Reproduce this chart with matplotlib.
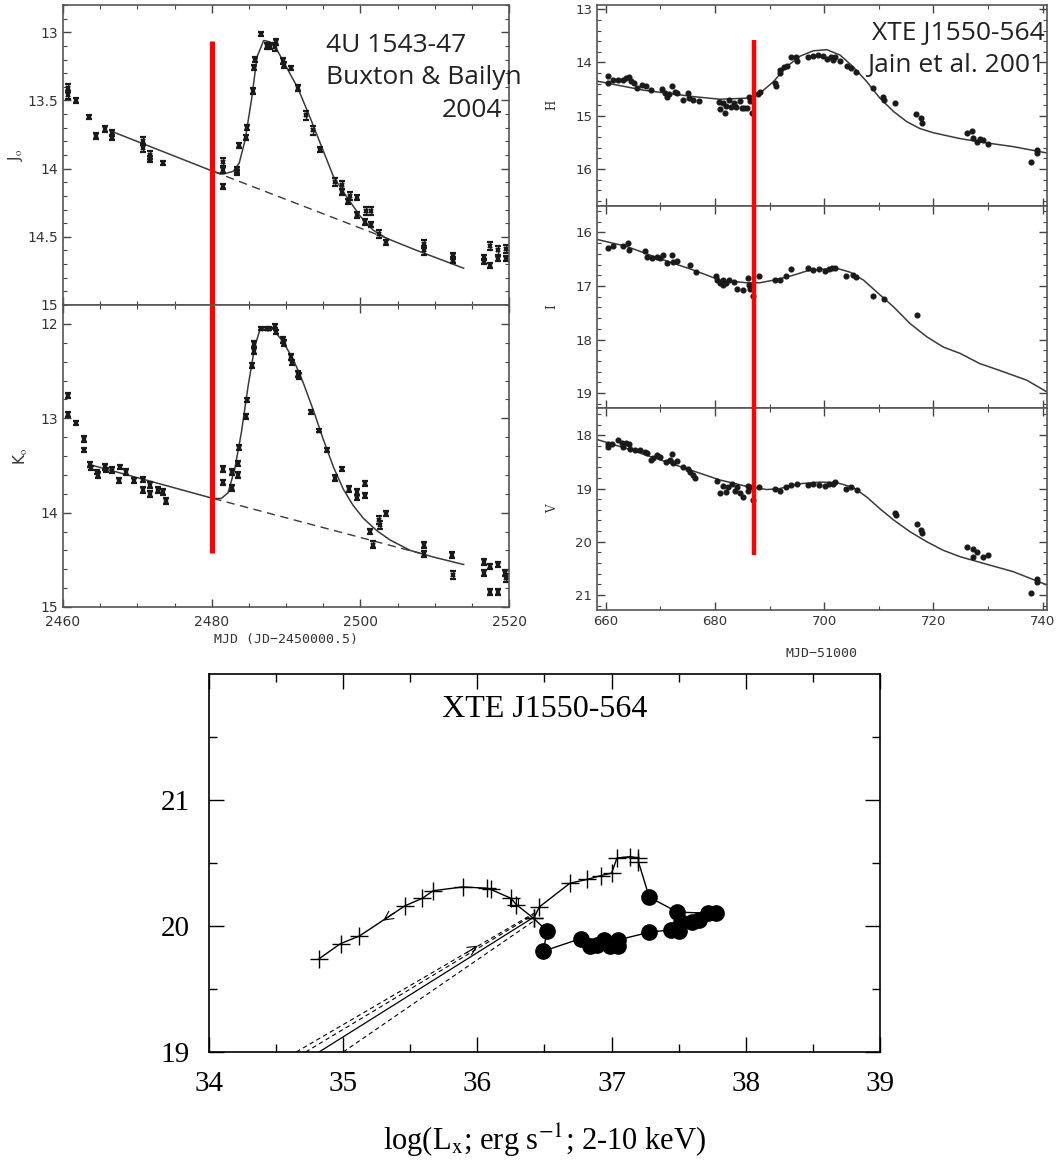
import numpy as np
import matplotlib
matplotlib.use('Agg')
import matplotlib.pyplot as plt
from matplotlib.ticker import MultipleLocator, FormatStrFormatter

plt.rcParams['mathtext.fontset'] = 'stix'

# ---------------- 4U 1543-47 (Buxton & Bailyn 2004) ----------------
J_x = [2460.7, 2460.7, 2461.8, 2463.5, 2464.5, 2465.6, 2466.6, 2466.6, 2470.7, 2470.7,
       2471.7, 2471.7, 2473.5, 2481.5, 2481.5, 2481.5, 2483.4, 2483.4, 2483.7, 2484.6,
       2484.7, 2485.5, 2485.7, 2485.8, 2486.7, 2487.4, 2487.8, 2488.5, 2488.6, 2489.6,
       2489.7, 2490.7, 2491.6, 2492.7, 2493.6, 2494.6, 2496.6, 2497.6, 2497.6, 2498.4,
       2498.6, 2499.6, 2499.5, 2500.6, 2500.8, 2501.5, 2501.5, 2502.5, 2503.5, 2508.5,
       2508.5, 2512.4, 2512.4, 2516.6, 2516.6, 2517.5, 2517.5, 2518.5, 2518.5, 2519.6,
       2519.6]
J_y = [13.41, 13.46, 13.50, 13.62, 13.76, 13.71, 13.74, 13.77, 13.80, 13.85,
       13.90, 13.93, 13.96, 13.95, 14.01, 14.13, 14.01, 14.03, 13.83, 13.77,
       13.70, 13.43, 13.26, 13.20, 13.01, 13.10, 13.10, 13.11, 13.07, 13.21,
       13.24, 13.26, 13.41, 13.61, 13.72, 13.86, 14.10, 14.12, 14.17, 14.24,
       14.20, 14.21, 14.34, 14.39, 14.31, 14.31, 14.41, 14.48, 14.54, 14.55,
       14.60, 14.64, 14.67, 14.65, 14.68, 14.57, 14.71, 14.60, 14.66, 14.59,
       14.66]
J_err = [0.03, 0.03, 0.015, 0.015, 0.02, 0.02, 0.02, 0.02, 0.03, 0.03,
         0.03, 0.02, 0.015, 0.03, 0.02, 0.02, 0.02, 0.02, 0.02, 0.02,
         0.02, 0.02, 0.02, 0.02, 0.015, 0.02, 0.02, 0.03, 0.02, 0.02,
         0.02, 0.015, 0.02, 0.03, 0.03, 0.02, 0.03, 0.03, 0.02, 0.02,
         0.03, 0.02, 0.02, 0.02, 0.03, 0.03, 0.02, 0.03, 0.02, 0.03,
         0.03, 0.02, 0.02, 0.02, 0.02, 0.03, 0.02, 0.03, 0.02, 0.03,
         0.02]
Jmod_x = [2466.7, 2480.2, 2481.5, 2482.9, 2483.7, 2484.5, 2485.4, 2486.1, 2487.0, 2487.8,
          2488.7, 2490.1, 2491.6, 2493.2, 2494.8, 2496.4, 2498.2, 2500.0, 2501.7, 2503.5,
          2507.6, 2513.9]
Jmod_y = [13.73, 14.02, 14.04, 14.02, 13.96, 13.79, 13.48, 13.18, 13.06, 13.07,
          13.12, 13.26, 13.41, 13.62, 13.84, 14.06, 14.21, 14.35, 14.45, 14.51,
          14.60, 14.73]
Jbase_x = [2480.2, 2504.0]
Jbase_y = [14.02, 14.52]

K_x = [2460.7, 2460.7, 2461.8, 2462.8, 2462.8, 2463.6, 2463.7, 2464.7, 2464.6, 2465.6,
       2465.8, 2466.6, 2467.6, 2467.7, 2468.5, 2469.6, 2470.7, 2470.7, 2471.7, 2471.7,
       2472.8, 2473.5, 2473.8, 2481.5, 2481.5, 2482.7, 2482.7, 2483.5, 2483.5, 2483.7,
       2484.6, 2484.7, 2485.4, 2485.7, 2485.7, 2486.7, 2487.5, 2487.7, 2488.5, 2488.6,
       2489.6, 2489.7, 2490.7, 2490.8, 2491.6, 2491.7, 2493.4, 2494.5, 2495.5, 2496.6,
       2497.6, 2498.5, 2499.5, 2499.6, 2500.6, 2500.6, 2501.3, 2501.7, 2502.5, 2502.6,
       2503.5, 2508.5, 2508.5, 2512.3, 2512.5, 2516.6, 2516.6, 2517.5, 2517.5, 2518.5,
       2518.5, 2519.5, 2519.6]
K_y = [12.76, 12.96, 13.05, 13.22, 13.34, 13.49, 13.53, 13.60, 13.57, 13.52,
       13.55, 13.55, 13.66, 13.52, 13.57, 13.66, 13.65, 13.76, 13.71, 13.80,
       13.76, 13.78, 13.88, 13.54, 13.68, 13.57, 13.74, 13.48, 13.60, 13.31,
       12.98, 12.81, 12.44, 12.29, 12.21, 12.05, 12.05, 12.05, 12.02, 12.09,
       12.17, 12.20, 12.35, 12.41, 12.53, 12.55, 12.93, 13.13, 13.34, 13.63,
       13.54, 13.75, 13.84, 13.78, 13.69, 13.82, 14.20, 14.34, 14.08, 14.13,
       14.01, 14.34, 14.44, 14.45, 14.66, 14.52, 14.64, 14.57, 14.84, 14.55,
       14.84, 14.64, 14.69]
K_err = [0.03, 0.03, 0.02, 0.03, 0.02, 0.03, 0.02, 0.03, 0.02, 0.03,
         0.02, 0.03, 0.03, 0.02, 0.03, 0.03, 0.03, 0.03, 0.03, 0.03,
         0.03, 0.03, 0.03, 0.03, 0.03, 0.03, 0.03, 0.03, 0.03, 0.03,
         0.03, 0.02, 0.03, 0.03, 0.03, 0.02, 0.02, 0.02, 0.02, 0.02,
         0.03, 0.03, 0.03, 0.03, 0.03, 0.03, 0.02, 0.02, 0.02, 0.03,
         0.02, 0.03, 0.03, 0.03, 0.03, 0.03, 0.03, 0.04, 0.04, 0.04,
         0.03, 0.03, 0.03, 0.03, 0.04, 0.03, 0.03, 0.03, 0.03, 0.03,
         0.03, 0.03, 0.04]
Kmod_x = [2464.0, 2480.2, 2481.3, 2482.2, 2483.1, 2484.0, 2484.9, 2485.8, 2486.5, 2487.4,
          2488.3, 2489.6, 2491.0, 2492.3, 2493.7, 2495.0, 2496.4, 2497.7, 2499.0, 2500.4,
          2502.2, 2504.0, 2506.7, 2509.8, 2513.9]
Kmod_y = [13.50, 13.85, 13.85, 13.79, 13.54, 13.15, 12.66, 12.24, 12.06, 12.03,
          12.06, 12.19, 12.38, 12.62, 12.92, 13.22, 13.52, 13.75, 13.92, 14.06,
          14.19, 14.29, 14.40, 14.47, 14.55]
Kbase_x = [2480.2, 2508.0]
Kbase_y = [13.85, 14.43]

LEFT_OUTBURST = 2480.0
LEFT_RED_J = (13.065, 15.0)
LEFT_RED_K = (11.8, 14.43)

# ---------------- XTE J1550-564 (Jain et al. 2001) ----------------
H_x = [660.4, 660.4, 661.4, 662.3, 663.2, 663.8, 664.3, 664.6, 665.2, 665.8,
       666.6, 667.4, 668.2, 670.3, 670.9, 671.3, 671.5, 672.1, 672.7, 673.1,
       674.2, 675.1, 675.3, 676.0, 677.0, 680.8, 680.9, 681.5, 681.8, 682.1,
       682.5, 682.9, 683.4, 683.9, 684.5, 684.9, 685.3, 685.9, 686.3, 686.4,
       686.7, 687.9, 688.2, 691.0, 691.2, 691.9, 692.0, 692.6, 693.1, 694.0,
       694.8, 695.0, 697.1, 698.0, 698.9, 699.8, 700.5, 701.2, 701.6, 702.0,
       702.9, 704.1, 705.0, 705.9, 709.0, 710.8, 710.9, 713.0, 716.9, 717.8,
       718.0, 726.1, 727.0, 727.2, 727.9, 728.6, 729.1, 730.0, 737.8, 738.9,
       739.0]
H_y = [14.25, 14.39, 14.32, 14.32, 14.32, 14.30, 14.27, 14.34, 14.39, 14.47,
       14.42, 14.44, 14.52, 14.50, 14.58, 14.64, 14.59, 14.44, 14.55, 14.58,
       14.71, 14.57, 14.66, 14.71, 14.72, 14.74, 14.88, 14.77, 14.94, 14.82,
       14.71, 14.84, 14.77, 14.84, 14.72, 14.86, 14.86, 14.86, 14.64, 14.72,
       14.94, 14.59, 14.55, 14.39, 14.45, 14.14, 14.20, 14.08, 14.07, 13.90,
       13.90, 13.98, 13.90, 13.88, 13.86, 13.88, 13.94, 13.90, 13.95, 13.89,
       13.98, 14.07, 14.11, 14.17, 14.47, 14.64, 14.71, 14.77, 14.96, 15.05,
       15.13, 15.32, 15.28, 15.41, 15.49, 15.43, 15.45, 15.53, 15.87, 15.65,
       15.70]
Hmod_x = [658.4, 666.9, 676.0, 680.9, 685.8, 688.2, 690.7, 693.1, 695.6, 698.0,
          700.5, 702.9, 705.3, 707.8, 710.2, 712.7, 715.1, 717.5, 720.0, 724.9,
          729.7, 734.6, 740.8]
Hmod_y = [14.35, 14.52, 14.64, 14.69, 14.67, 14.58, 14.36, 14.08, 13.88, 13.78,
          13.76, 13.86, 14.08, 14.36, 14.67, 14.92, 15.11, 15.24, 15.32, 15.43,
          15.51, 15.58, 15.70]

I_x = [660.4, 661.4, 663.2, 664.1, 664.3, 667.2, 667.5, 668.4, 669.3, 669.9,
       670.4, 671.2, 672.1, 672.4, 673.1, 675.4, 676.5, 680.2, 680.3, 680.9,
       681.4, 681.5, 682.0, 682.5, 683.4, 684.1, 685.1, 686.1, 686.3, 686.4,
       686.9, 688.1, 691.0, 692.0, 693.0, 694.0, 697.1, 697.9, 699.1, 700.1,
       700.9, 701.4, 702.0, 704.0, 705.2, 705.9, 709.0, 710.9, 717.0]
I_y = [16.29, 16.26, 16.26, 16.19, 16.32, 16.34, 16.46, 16.47, 16.46, 16.47,
       16.42, 16.57, 16.42, 16.55, 16.53, 16.61, 16.74, 16.82, 16.88, 16.95,
       16.89, 16.99, 16.94, 16.89, 16.92, 17.05, 17.08, 16.86, 16.99, 17.05,
       17.19, 16.82, 16.88, 16.88, 16.82, 16.69, 16.67, 16.70, 16.69, 16.72,
       16.69, 16.67, 16.67, 16.82, 16.80, 16.83, 17.19, 17.24, 17.55]
Imod_x = [658.4, 663.8, 669.9, 676.0, 680.9, 685.8, 688.2, 691.3, 694.3, 696.8,
          699.2, 702.3, 704.7, 707.2, 709.6, 712.7, 715.7, 718.8, 721.8, 724.9,
          728.5, 732.2, 737.1, 740.8]
Imod_y = [16.13, 16.26, 16.49, 16.70, 16.89, 16.94, 16.94, 16.88, 16.80, 16.72,
          16.69, 16.67, 16.74, 16.89, 17.11, 17.39, 17.70, 17.95, 18.14, 18.26,
          18.45, 18.58, 18.76, 18.98]

V_x = [660.4, 660.5, 661.1, 662.3, 662.9, 663.1, 663.8, 664.3, 664.5, 665.4,
       666.3, 667.2, 667.6, 668.2, 668.6, 669.3, 669.9, 671.0, 671.7, 672.1,
       672.4, 673.0, 674.2, 675.1, 675.4, 676.0, 676.4, 680.3, 680.9, 681.5,
       682.1, 682.4, 683.2, 683.7, 684.1, 684.6, 685.2, 686.1, 686.1, 686.4,
       686.9, 688.1, 691.0, 692.0, 693.0, 694.0, 695.1, 697.1, 698.0, 699.1,
       700.1, 700.9, 701.6, 702.0, 704.0, 705.0, 706.1, 713.0, 713.1, 717.0,
       717.8, 718.0, 726.1, 727.2, 727.2, 728.0, 729.1, 730.0, 737.8, 739.0,
       739.0]
V_y = [18.22, 18.16, 18.17, 18.09, 18.14, 18.22, 18.14, 18.17, 18.25, 18.27,
       18.27, 18.31, 18.34, 18.46, 18.42, 18.38, 18.41, 18.50, 18.47, 18.36,
       18.53, 18.48, 18.59, 18.63, 18.69, 18.75, 18.81, 18.86, 19.08, 18.96,
       19.06, 18.98, 18.92, 19.04, 18.98, 19.08, 19.16, 18.96, 19.04, 18.98,
       19.22, 18.98, 19.00, 19.04, 18.98, 18.94, 18.91, 18.94, 18.91, 18.94,
       18.96, 18.92, 18.91, 18.88, 19.00, 18.98, 19.03, 19.46, 19.50, 19.67,
       19.78, 19.83, 20.09, 20.13, 20.28, 20.19, 20.28, 20.25, 20.97, 20.69,
       20.75]
Vmod_x = [658.4, 663.8, 669.9, 676.0, 680.9, 685.8, 689.5, 691.9, 695.6, 699.2,
          702.3, 705.3, 707.8, 710.2, 712.7, 715.7, 718.8, 721.8, 724.9, 729.7,
          734.6, 740.8]
Vmod_y = [18.08, 18.25, 18.46, 18.67, 18.84, 18.96, 19.02, 19.00, 18.91, 18.88,
          18.89, 18.98, 19.16, 19.38, 19.59, 19.81, 20.00, 20.16, 20.28, 20.42,
          20.56, 20.81]

RIGHT_OUTBURST = 687.2
RIGHT_RED_H = (13.58, 16.69)
RIGHT_RED_I = (15.50, 19.27)
RIGHT_RED_V = (17.48, 20.25)
RIGHT_BANDS = ['H', 'I', 'V']

# ---------------- bottom: V vs log Lx ----------------
rise_x = [36.42, 36.46, 36.69, 36.82, 36.92, 37.00, 37.04, 37.14, 37.20, 37.20]
rise_y = [20.06, 20.15, 20.34, 20.37, 20.40, 20.42, 20.54, 20.55, 20.54, 20.51]
circ_x = [37.28, 37.49, 37.78, 37.72, 37.65, 37.60, 37.52, 37.50, 37.44, 37.28,
          37.05, 37.05, 36.99, 36.94, 36.89, 36.84, 36.77, 36.49, 36.52]
circ_y = [20.23, 20.11, 20.10, 20.10, 20.05, 20.03, 20.03, 19.96, 19.97, 19.95,
          19.89, 19.84, 19.84, 19.89, 19.85, 19.84, 19.90, 19.80, 19.96]
decay_x = [36.42, 36.29, 36.25, 36.10, 36.07, 35.89, 35.67, 35.59, 35.46, 35.12, 34.98, 34.82]
decay_y = [20.06, 20.17, 20.22, 20.29, 20.30, 20.31, 20.28, 20.22, 20.16, 19.92, 19.86, 19.74]
square_pt = (36.27, 20.19)
solid_rise_x = [34.82, 36.42]
solid_rise_y = [19.00, 20.07]
dashed_hi_x = [34.65, 36.42]
dashed_hi_y = [19.00, 20.10]
dashed_hi2_x = [34.72, 36.42]
dashed_hi2_y = [19.00, 20.09]
dashed_lo_x = [35.00, 36.42]
dashed_lo_y = [19.00, 20.04]
arrow_rise = ((35.90, 19.775), (36.02, 19.855))
arrow_decay = ((35.40, 20.118), (35.28, 20.03))

W, Hpx = 1057, 1166
fig = plt.figure(figsize=(W / 100, Hpx / 100), dpi=100)


def box(l, t, r, b):
    return [l / W, 1 - b / Hpx, (r - l) / W, (b - t) / Hpx]


def pg_style(ax, xmaj, xmin, ymaj, ymin, lsize=10):
    ax.xaxis.set_major_locator(MultipleLocator(xmaj))
    ax.xaxis.set_minor_locator(MultipleLocator(xmin))
    ax.yaxis.set_major_locator(MultipleLocator(ymaj))
    ax.yaxis.set_minor_locator(MultipleLocator(ymin))
    ax.tick_params(which='both', direction='in', top=True, right=True,
                   colors='#444', labelcolor='#333', labelsize=lsize)
    ax.tick_params(which='major', length=6, width=1.0)
    ax.tick_params(which='minor', length=3, width=0.8)
    for s in ax.spines.values():
        s.set_color('#555')
        s.set_linewidth(1.2)


INK = '#1a1a1a'
CURVE = '#3a3a3a'

# --- J panel
axJ = fig.add_axes(box(63, 5, 509, 305))
axJ.set_xlim(2460, 2520)
axJ.set_ylim(15, 12.8)
pg_style(axJ, 20, 5, 0.5, 0.1)
axJ.yaxis.set_major_formatter(FormatStrFormatter('%g'))
axJ.tick_params(labelbottom=False)
axJ.plot(Jmod_x, Jmod_y, color=CURVE, lw=1.1)
axJ.plot(Jbase_x, Jbase_y, color=CURVE, lw=1.0, ls=(0, (6, 4)))
axJ.errorbar(J_x, J_y, yerr=J_err, fmt='x', ms=3.2, mew=1.6, color=INK,
             ecolor=INK, elinewidth=1.0, capsize=2.2, capthick=1.0)
axJ.vlines(LEFT_OUTBURST, LEFT_RED_J[0], LEFT_RED_J[1], color='#ff0000', lw=3.6, zorder=6, clip_on=False)
axJ.set_ylabel(r'J$_{\rm o}$', fontsize=11, color='#333')
axJ.yaxis.set_label_coords(-0.085, 0.5)
tkw = dict(transform=axJ.transAxes, fontsize=19, color='#222', family='Open Sans', va='center', clip_on=False)
axJ.text(0.59, 0.865, '4U 1543-47', ha='left', **tkw)
axJ.text(0.59, 0.757, 'Buxton & Bailyn', ha='left', **tkw)
axJ.text(0.985, 0.648, '2004', ha='right', **tkw)

# --- K panel
axK = fig.add_axes(box(63, 305, 509, 607))
axK.set_xlim(2460, 2520)
axK.set_ylim(15, 11.8)
pg_style(axK, 20, 5, 1, 0.2)
axK.tick_params(axis='x', which='major', pad=6)
axK.yaxis.set_major_formatter(FormatStrFormatter('%g'))
axK.xaxis.set_major_formatter(FormatStrFormatter('%d'))
axK.plot(Kmod_x, Kmod_y, color=CURVE, lw=1.1)
axK.plot(Kbase_x, Kbase_y, color=CURVE, lw=1.0, ls=(0, (6, 4)))
axK.errorbar(K_x, K_y, yerr=K_err, fmt='x', ms=3.2, mew=1.6, color=INK,
             ecolor=INK, elinewidth=1.0, capsize=2.2, capthick=1.0)
axK.vlines(LEFT_OUTBURST, LEFT_RED_K[0], LEFT_RED_K[1], color='#ff0000', lw=3.6, zorder=6, clip_on=False)
axK.set_ylabel(r'K$_{\rm o}$', fontsize=11, color='#333')
axK.yaxis.set_label_coords(-0.075, 0.5)
axK.set_xlabel('MJD (JD\u22122450000.5)', fontsize=9.5, color='#333', family='DejaVu Sans Mono')
axK.xaxis.labelpad = 3

# --- H, I, V panels
right_panels = [
    (box(597, 5, 1047, 205.7), H_x, H_y, Hmod_x, Hmod_y, (16.69, 12.92), RIGHT_RED_H),
    (box(597, 205.7, 1047, 407.5), I_x, I_y, Imod_x, Imod_y, (19.27, 15.50), RIGHT_RED_I),
    (box(597, 407.5, 1047, 610), V_x, V_y, Vmod_x, Vmod_y, (21.28, 17.48), RIGHT_RED_V),
]
raxes = []
for (rect, px, py, mx, my, ylim, red), band in zip(right_panels, RIGHT_BANDS):
    ax = fig.add_axes(rect)
    ax.set_xlim(658.4, 740.8)
    ax.set_ylim(*ylim)
    pg_style(ax, 20, 10, 1, 0.2, lsize=9.5)
    ax.yaxis.set_major_formatter(FormatStrFormatter('%d'))
    ax.xaxis.set_major_formatter(FormatStrFormatter('%d'))
    ax.plot(mx, my, color=CURVE, lw=1.1)
    ax.plot(px, py, 'o', ms=3.4, color=INK, mec=INK)
    ax.vlines(RIGHT_OUTBURST, red[0], red[1], color='#ff0000', lw=3.2, zorder=6, clip_on=False)
    ax.set_ylabel(band, fontsize=8.5, color='#333', family='DejaVu Serif')
    ax.yaxis.set_label_coords(-0.085, 0.5)
    raxes.append(ax)
raxes[0].tick_params(labelbottom=False)
raxes[1].tick_params(labelbottom=False)
raxes[2].set_xlabel('MJD\u221251000', fontsize=9.5, color='#333', family='DejaVu Sans Mono', labelpad=14)
tkw2 = dict(transform=raxes[0].transAxes, fontsize=19, color='#222', family='Open Sans',
            va='center', ha='right', clip_on=False)
raxes[0].text(0.996, 0.86, 'XTE J1550-564', **tkw2)
raxes[0].text(0.996, 0.70, 'Jain et al. 2001', **tkw2)

# --- bottom panel
axB = fig.add_axes(box(209, 674, 880, 1052))
axB.set_xlim(34, 39)
axB.set_ylim(19, 22)
axB.set_xticks([34, 35, 36, 37, 38, 39])
axB.set_xticks([34.5, 35.5, 36.5, 37.5, 38.5], minor=True)
axB.set_yticks([19, 20, 21])
axB.set_yticks([19.5, 20.5, 21.5], minor=True)
axB.tick_params(which='both', direction='in', top=True, right=True, labelsize=21, pad=14)
axB.tick_params(which='major', length=11, width=1.0)
axB.tick_params(which='minor', length=6, width=1.0)
for lab in axB.get_xticklabels() + axB.get_yticklabels():
    lab.set_family('Liberation Serif')
for s in axB.spines.values():
    s.set_linewidth(1.2)

axB.plot(dashed_hi_x, dashed_hi_y, color='k', lw=0.8, ls=(0, (4, 3)))
axB.plot(dashed_hi2_x, dashed_hi2_y, color='k', lw=0.8, ls=(0, (4, 3)))
axB.plot(solid_rise_x, solid_rise_y, color='k', lw=0.9)
axB.plot(dashed_lo_x, dashed_lo_y, color='k', lw=0.8, ls=(0, (4, 3)))
path_x = np.concatenate([rise_x, circ_x, decay_x])
path_y = np.concatenate([rise_y, circ_y, decay_y])
axB.plot(path_x, path_y, color='k', lw=1.0)
axB.plot(rise_x, rise_y, '+', ms=13, mew=1.0, color='k')
axB.plot(decay_x, decay_y, '+', ms=13, mew=1.0, color='k')
axB.plot(circ_x, circ_y, 'o', ms=11, color='k')
axB.plot(*square_pt, 's', ms=6, mfc='none', mec='k', mew=0.8)
for tail, tip in (arrow_rise, arrow_decay):
    axB.annotate('', xy=tip, xytext=tail,
                 arrowprops=dict(arrowstyle='->', lw=0.8, color='k', mutation_scale=16))
axB.text(0.5, 0.905, 'XTE J1550-564', transform=axB.transAxes, ha='center', va='center',
         fontsize=23, family='Liberation Serif')
axB.text(0.5, -0.233, r'log(L$_{\rm x}$; erg s$^{-1}$; 2-10 keV)', transform=axB.transAxes,
         ha='center', va='center', fontsize=22, family='Liberation Serif')

fig.savefig('out.png', dpi=100)
